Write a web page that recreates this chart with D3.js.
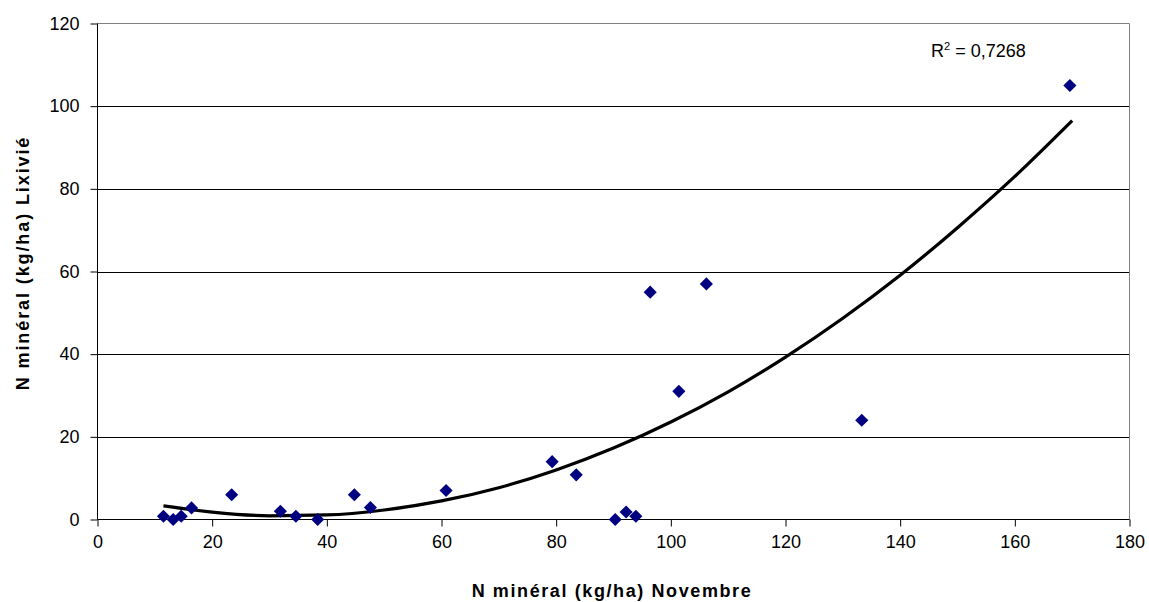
<!DOCTYPE html>
<html>
<head>
<meta charset="utf-8">
<script src="https://cdn.jsdelivr.net/npm/d3@7"></script>
<style>
  html, body { margin: 0; padding: 0; background: #fff; }
  svg { display: block; font-family: "Liberation Sans", Arial, sans-serif; }
</style>
</head>
<body>
<svg id="chart" width="1149" height="602"></svg>
<script>
// Observed points: N minéral novembre (x) vs N lixivié (y)
const novembre = [11.5, 13.2, 14.6, 16.4, 23.4, 31.9, 34.6, 38.4, 44.8, 47.6, 60.8, 79.3, 83.5, 90.3, 92.2, 93.9, 96.4, 101.4, 106.2, 133.3, 169.6];
const lixivie  = [0.8, 0, 0.8, 2.8, 6, 2, 0.8, 0, 6, 2.9, 7, 14, 10.8, 0, 1.8, 0.8, 55, 31, 57, 24, 105];

// Trend line
const trendX = [11.5, 20, 30, 40, 50, 60, 70, 80, 90, 100, 110, 120, 130, 140, 150, 160, 170];
const trendY = [3.3, 1.8, 0.9, 1.1, 2.3, 4.5, 7.7, 12.0, 17.3, 23.6, 30.9, 39.3, 48.7, 59.1, 70.6, 83.0, 96.5];

const xTicks = [0, 20, 40, 60, 80, 100, 120, 140, 160, 180];
const yTicks = [0, 20, 40, 60, 80, 100, 120];
const r2Label = "0,7268";

(function () {
const svg = d3.select("#chart");
const pL = 97.5, pR = 1129.5, pT = 23.5, pB = 519.5;

const x = d3.scaleLinear().domain([0, 180]).range([pL, pR]);
const y = d3.scaleLinear().domain([0, 120]).range([pB, pT]);

// gridlines
svg.append("g").selectAll("line").data(yTicks.filter(d => d > 0 && d < 120)).join("line")
  .attr("x1", pL).attr("x2", pR)
  .attr("y1", d => Math.round(y(d)) + 0.5).attr("y2", d => Math.round(y(d)) + 0.5)
  .attr("stroke", "#000").attr("stroke-width", 1);

// plot border top & right (grey)
svg.append("path")
  .attr("d", `M${pL},${pT}H${pR}V${pB}`)
  .attr("fill", "none").attr("stroke", "#808080").attr("stroke-width", 1);

// axes
const xAxis = svg.append("g").attr("transform", `translate(0,${pB})`)
  .call(d3.axisBottom(x).tickValues(xTicks).tickSize(7).tickPadding(9).tickFormat(d3.format("d")));
const yAxis = svg.append("g").attr("transform", `translate(${pL},0)`)
  .call(d3.axisLeft(y).tickValues(yTicks).tickSize(7).tickPadding(11).tickFormat(d3.format("d")));
[xAxis, yAxis].forEach(g => {
  g.select(".domain").attr("stroke", "#000");
  g.selectAll(".tick line").attr("stroke", "#000");
  g.selectAll(".tick text").attr("fill", "#000")
    .style("font-family", '"Liberation Sans", Arial, sans-serif').style("font-size", "18px");
});
yAxis.select(".domain").attr("d", `M0,${pT}V${pB}`);
xAxis.select(".domain").attr("d", `M${pL},0H${pR}`);

// trend line
const line = d3.line().x(d => x(d[0])).y(d => y(d[1])).curve(d3.curveMonotoneX);
svg.append("path")
  .datum(trendX.map((v, i) => [v, trendY[i]]))
  .attr("d", line)
  .attr("fill", "none").attr("stroke", "#000").attr("stroke-width", 3.2)
  .attr("stroke-linejoin", "round");

// markers (diamonds)
const diamond = d3.symbol().type(d3.symbolSquare).size(86);
svg.append("g").selectAll("path").data(novembre.map((v, i) => [v, lixivie[i]])).join("path")
  .attr("d", diamond)
  .attr("transform", d => `translate(${x(d[0])},${y(d[1])}) rotate(45)`)
  .attr("fill", "#000080");

// R² label
const r2 = svg.append("text").attr("x", 931).attr("y", 57)
  .style("font-size", "18px").attr("fill", "#000");
r2.append("tspan").text("R");
r2.append("tspan").attr("dy", -7).style("font-size", "11px").text("2");
r2.append("tspan").attr("dy", 7).text(" = " + r2Label);

// axis titles
svg.append("text").attr("x", 612).attr("y", 597).attr("text-anchor", "middle")
  .style("font-size", "18px").style("font-weight", "bold").style("letter-spacing", "1.6px")
  .text("N minéral (kg/ha) Novembre");
svg.append("text").attr("transform", `translate(29,263) rotate(-90)`).attr("text-anchor", "middle")
  .style("font-size", "18px").style("font-weight", "bold").style("letter-spacing", "1.9px")
  .text("N minéral (kg/ha) Lixivié");
})();
</script>
</body>
</html>
